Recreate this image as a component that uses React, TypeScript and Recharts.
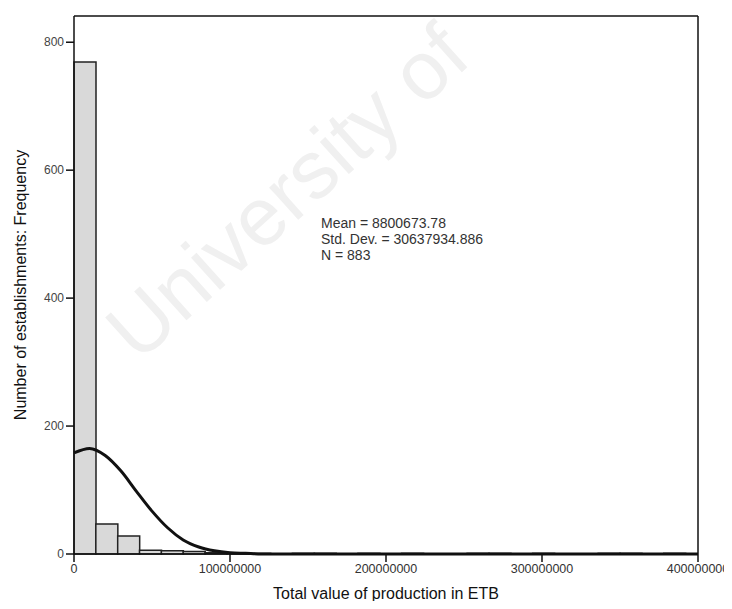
import {
  ComposedChart,
  Bar,
  Line,
  XAxis,
  YAxis,
  ReferenceLine,
  Label,
} from "recharts";

// histogram bins: centre of each 14M-wide bin and the count in it
const binCenters = [
  7e6, 21e6, 35e6, 49e6, 63e6, 77e6, 91e6, 105e6, 119e6, 133e6, 147e6, 161e6,
  175e6, 189e6, 203e6, 217e6, 231e6, 245e6, 259e6, 273e6, 287e6, 301e6, 315e6,
  329e6, 343e6, 357e6, 371e6, 385e6,
];
const binCounts = [
  769, 47, 28, 6, 5, 4, 2, 1, 1, 0, 1, 1, 0, 1, 0, 1, 0, 0, 1, 1, 0, 1, 0, 0, 1,
  1, 0, 1,
];

// normal curve
const curveX = [
  0, 10e6, 20e6, 30e6, 40e6, 50e6, 60e6, 70e6, 80e6, 90e6, 100e6, 110e6, 120e6,
  150e6, 200e6, 300e6, 400e6,
];
const curveY = [158, 165, 154, 130, 98, 67, 41, 22, 11, 5, 2, 1, 0, 0, 0, 0, 0];

const xTicks = [0, 100000000, 200000000, 300000000, 400000000];
const yTicks = [0, 200, 400, 600, 800];

const statLines = ["Mean = 8800673.78", "Std. Dev. = 30637934.886", "N = 883"];

const bins = binCenters.map((x, i) => ({ x, count: binCounts[i] }));
const curve = curveX.map((x, i) => ({ cx: x, normal: curveY[i] }));

const FONT = "'Liberation Sans', Arial, sans-serif";

export default function App() {
  return (
    <div
      style={{
        position: "relative",
        width: 732,
        height: 609,
        margin: -8,
        background: "#fff",
        fontFamily: FONT,
        overflow: "hidden",
      }}
    >
      <div
        style={{
          position: "absolute",
          left: 88,
          top: 308,
          fontSize: 82,
          color: "#f0f0f0",
          transform: "rotate(-42deg)",
          transformOrigin: "left top",
          whiteSpace: "nowrap",
        }}
      >
        University of
      </div>
      <ComposedChart
        width={732}
        height={609}
        data={bins}
        margin={{ top: 16, right: 34, left: 20, bottom: 0 }}
        barCategoryGap={0}
        barGap={0}
        style={{ position: "absolute", left: 0, top: 0, overflow: "visible" }}
      >
        <XAxis
          dataKey="x"
          type="number"
          domain={[0, 400000000]}
          ticks={xTicks}
          interval={0}
          height={55}
          stroke="#111"
          strokeWidth={1.5}
          tickSize={8}
          tick={{ fill: "#333", fontSize: 12.5, fontFamily: FONT }}
        >
          <Label
            value="Total value of production in ETB"
            position="insideBottom"
            offset={10}
            style={{ fill: "#111", fontSize: 16, fontFamily: FONT }}
          />
        </XAxis>
        <XAxis
          xAxisId="curve"
          dataKey="cx"
          type="number"
          domain={[0, 400000000]}
          hide
        />
        <YAxis
          type="number"
          domain={[0, 841]}
          ticks={yTicks}
          interval={0}
          width={54}
          stroke="#111"
          strokeWidth={1.5}
          tickSize={8}
          tick={{ fill: "#444", fontSize: 12, fontFamily: FONT }}
        >
          <Label
            value="Number of establishments: Frequency"
            angle={-90}
            position="insideLeft"
            offset={0}
            style={{
              fill: "#111",
              fontSize: 16,
              fontFamily: FONT,
              textAnchor: "middle",
            }}
          />
        </YAxis>
        <ReferenceLine y={841} stroke="#111" strokeWidth={1.5} />
        <ReferenceLine x={400000000} stroke="#111" strokeWidth={1.5} />
        <Bar
          dataKey="count"
          fill="#d9d9d9"
          stroke="#222"
          strokeWidth={1.5}
          isAnimationActive={false}
        />
        <Line
          xAxisId="curve"
          data={curve}
          dataKey="normal"
          type="monotone"
          stroke="#111"
          strokeWidth={3}
          dot={false}
          activeDot={false}
          isAnimationActive={false}
        />
      </ComposedChart>
      {statLines.map((s, i) => (
        <div
          key={s}
          style={{
            position: "absolute",
            left: 321,
            top: 215 + i * 16,
            fontSize: 14,
            lineHeight: "16px",
            color: "#333",
            whiteSpace: "nowrap",
          }}
        >
          {s}
        </div>
      ))}
    </div>
  );
}
